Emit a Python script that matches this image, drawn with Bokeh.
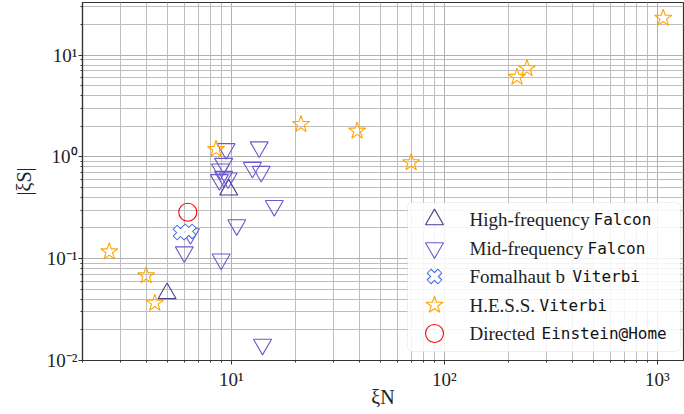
import math
from bokeh.plotting import figure
from bokeh.models import FixedTicker, Label, BoxAnnotation
from bokeh.embed import file_html
from bokeh.resources import INLINE

# ---------------- data ----------------
hf_x = [4.99, 9.71]
hf_y = [0.0454, 0.475]

mf_x = [9.44, 13.5, 12.55, 13.8, 15.9, 10.6, 8.95, 6.01, 6.42, 14.0,
        9.20, 8.88, 9.20, 8.78, 9.65]
mf_y = [1.20, 1.25, 0.785, 0.718, 0.331, 0.214, 0.0985, 0.116, 0.175, 0.0143,
        0.86, 0.757, 0.641, 0.595, 0.618]

fb_x = [5.77, 6.31]
fb_y = [0.180, 0.185]

hess_x = [2.67, 3.98, 4.37, 8.47, 21.2, 38.9, 69.8, 219.0, 244.0, 1064.0]
hess_y = [0.117, 0.068, 0.0365, 1.19, 2.09, 1.80, 0.88, 6.09, 7.41, 23.2]

eah_x = [6.24]
eah_y = [0.286]

legend_serif = ["High-frequency", "Mid-frequency", "Fomalhaut b", "H.E.S.S.", "Directed"]
legend_mono = ["Falcon", "Falcon", "Viterbi", "Viterbi", "Einstein@Home"]

x_title = "\u03beN"
y_title = "|\u03beS|"

x_ticks = [10, 100, 1000]
x_tick_labels = ["10\u00b9", "10\u00b2", "10\u00b3"]
y_ticks = [0.01, 0.1, 1, 10]
y_tick_labels = ["10\u207b\u00b2", "10\u207b\u00b9", "10\u2070", "10\u00b9"]

# ---------------- layout constants ----------------
W, H = 684, 414
FL, FR, FT, FB = 82, 683, 2, 360          # frame edges in canvas px
XR = (2.0, 1325.0)
YR = (0.00995, 33.0)

SERIF = "Liberation Serif"
MONO = "DejaVu Sans Mono"

p = figure(width=W, height=H, x_axis_type="log", y_axis_type="log",
           x_range=XR, y_range=YR, output_backend="svg", toolbar_location=None,
           min_border_left=FL, min_border_right=W - FR, min_border_top=FT,
           min_border_bottom=H - FB)
p.background_fill_color = "white"
p.border_fill_color = "white"
p.outline_line_color = "#333333"
p.outline_line_width = 1.2

x_minor = [k * 10 ** e for e in range(0, 4) for k in range(2, 10)]
y_minor = [k * 10.0 ** e for e in range(-2, 2) for k in range(2, 10)]
p.xaxis.ticker = FixedTicker(ticks=x_ticks, minor_ticks=x_minor)
p.yaxis.ticker = FixedTicker(ticks=y_ticks, minor_ticks=y_minor)
p.xaxis.major_label_overrides = dict(zip(x_ticks, x_tick_labels))
p.yaxis.major_label_overrides = dict(zip(y_ticks, y_tick_labels))

for ax in (p.xaxis, p.yaxis):
    ax.axis_line_color = "#333333"
    ax.axis_line_width = 1.2
    ax.major_tick_line_color = "#333333"
    ax.minor_tick_line_color = "#333333"
    ax.major_tick_out = 4
    ax.major_tick_in = 0
    ax.minor_tick_out = 2
    ax.minor_tick_in = 0
    ax.major_label_text_font = SERIF
    ax.major_label_text_font_size = "19px"
    ax.major_label_text_color = "#222222"
    ax.axis_label_text_font = SERIF
    ax.axis_label_text_font_style = "normal"
    ax.axis_label_text_font_size = "20px"
    ax.axis_label_text_color = "#222222"
p.xaxis.major_label_standoff = 4
p.yaxis.major_label_standoff = 1
p.xaxis.axis_label = x_title
p.yaxis.axis_label = y_title
p.xaxis.axis_label_standoff = -7
p.yaxis.axis_label_standoff = 9

p.grid.grid_line_color = "#b0b0b0"
p.grid.grid_line_width = 1
p.grid.minor_grid_line_color = "#bdbdbd"
p.grid.minor_grid_line_width = 1

MS = 18
C_HF, C_MF, C_FB, C_HESS, C_EAH = "#483d8b", "#6a5acd", "#4169e1", "#ffa500", "#ff0000"


def draw_X(xs, ys, level="glyph"):
    a = p.scatter(xs, ys, marker="x", size=16, line_color=C_FB, line_width=6.5, level=level)
    b = p.scatter(xs, ys, marker="x", size=14.2, line_color="white", line_width=4.5, level=level)
    return a, b


p.scatter(hf_x, hf_y, marker="triangle", size=MS, fill_color=None, line_color=C_HF, line_width=1.1)
p.scatter(mf_x, mf_y, marker="inverted_triangle", size=MS, fill_color=None, line_color=C_MF, line_width=1.1)
draw_X(fb_x, fb_y)
p.scatter(hess_x, hess_y, marker="star", size=MS, fill_color=None, line_color=C_HESS, line_width=1.1)
p.scatter(eah_x, eah_y, marker="circle", size=MS, fill_color=None, line_color=C_EAH, line_width=1.1)


# ---------------- helpers: canvas px -> screen / data ----------------
def sx(cx):
    return cx - FL


def sy(cy):
    return FB - cy


def dx(cx):
    l0, l1 = math.log10(XR[0]), math.log10(XR[1])
    return 10 ** (l0 + (cx - FL) / (FR - FL) * (l1 - l0))


def dy(cy):
    l0, l1 = math.log10(YR[0]), math.log10(YR[1])
    return 10 ** (l0 + (FB - cy) / (FB - FT) * (l1 - l0))


# ---------------- legend (manual) ----------------
box = BoxAnnotation(left=sx(407), right=sx(680), top=sy(202), bottom=sy(351),
                    left_units="screen", right_units="screen", top_units="screen",
                    bottom_units="screen", fill_color="white", fill_alpha=0.85,
                    line_color="#cccccc", line_width=1, border_radius=4)
p.add_layout(box)

rows = [219 + 28.5 * i for i in range(5)]
icon_x = 434
p.scatter([dx(icon_x)], [dy(rows[0])], marker="triangle", size=MS, fill_color=None,
          line_color=C_HF, line_width=1.1, level="overlay")
p.scatter([dx(icon_x)], [dy(rows[1])], marker="inverted_triangle", size=MS, fill_color=None,
          line_color=C_MF, line_width=1.1, level="overlay")
draw_X([dx(icon_x)], [dy(rows[2])], level="overlay")
p.scatter([dx(icon_x)], [dy(rows[3])], marker="star", size=MS, fill_color=None,
          line_color=C_HESS, line_width=1.1, level="overlay")
p.scatter([dx(icon_x)], [dy(rows[4])], marker="circle", size=MS, fill_color=None,
          line_color=C_EAH, line_width=1.1, level="overlay")

mono_x = [593, 587, 572, 539, 541]
for i in range(5):
    p.add_layout(Label(x=sx(469), y=sy(rows[i]), x_units="screen", y_units="screen",
                       text=legend_serif[i], text_font=SERIF, text_font_size="19px",
                       text_color="#222222", text_baseline="middle", text_align="left",
                       level="overlay"))
    p.add_layout(Label(x=sx(mono_x[i]), y=sy(rows[i]), x_units="screen", y_units="screen",
                       text=legend_mono[i], text_font=MONO, text_font_size="16px",
                       text_color="#111111", text_baseline="middle", text_align="left",
                       level="overlay"))

open("out.html", "w").write(file_html(p, INLINE))
